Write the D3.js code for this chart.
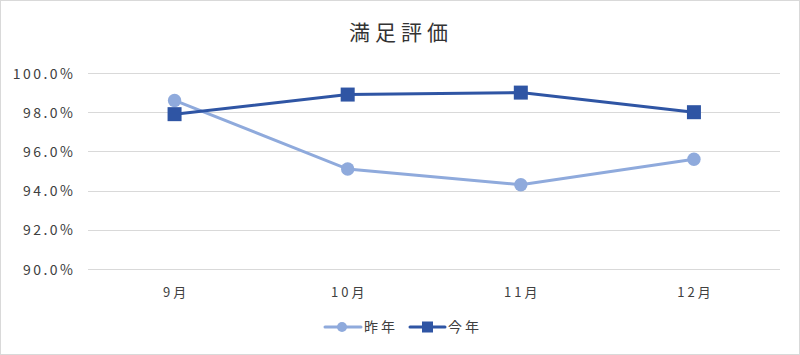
<!DOCTYPE html>
<html>
<head>
<meta charset="utf-8">
<script src="https://cdn.jsdelivr.net/npm/d3@7"></script>
<style>
  body { margin: 0; background: #fff; }
  svg { display: block; }
  text { font-family: "Noto Sans CJK JP", "Noto Sans", sans-serif; fill: #404040; }
</style>
</head>
<body>
<div id="chart"></div>
<script>
const title = "満足評価";
const months = ["9月", "10月", "11月", "12月"];
const lastYear = [98.6, 95.1, 94.3, 95.6];
const thisYear = [97.9, 98.9, 99.0, 98.0];
const yTicks = [90, 92, 94, 96, 98, 100];
const seriesNames = ["昨年", "今年"];

const width = 800, height = 355;
const margin = {top: 73, right: 20, bottom: 86, left: 88};

const svg = d3.select("#chart").append("svg")
  .attr("width", width)
  .attr("height", height);

//outer frame
svg.append("rect")
  .attr("x", 0.5).attr("y", 0.5)
  .attr("width", width - 1).attr("height", height - 1)
  .attr("fill", "#fff")
  .attr("stroke", "#d9d9d9");

svg.append("text")
  .attr("x", 401)
  .attr("y", 40)
  .attr("text-anchor", "middle")
  .style("font-size", "21px")
  .style("letter-spacing", "5px")
  .style("fill", "#333")
  .text(title);

let xScale = d3.scaleBand()
  .domain(months)
  .range([margin.left, width - margin.right + 0.5]);
let yScale = d3.scaleLinear()
  .domain([90, 100])
  .range([height - margin.bottom, margin.top]);

//Gridlines
svg.append("g")
  .selectAll("line")
  .data(yTicks)
  .enter()
    .append("line")
    .attr("x1", margin.left)
    .attr("x2", width - margin.right)
    .attr("y1", d => Math.round(yScale(d)) + 0.5)
    .attr("y2", d => Math.round(yScale(d)) + 0.5)
    .attr("stroke", "#d9d9d9")
    .attr("stroke-width", 1);

//Y labels (letter-spacing adds trailing space, so shift right)
svg.append("g")
  .selectAll("text")
  .data(yTicks)
  .enter()
    .append("text")
    .attr("x", 75.5)
    .attr("y", d => yScale(d) + 5.5)
    .attr("text-anchor", "end")
    .style("font-size", "14px")
    .style("letter-spacing", "2.5px")
    .text(d => d.toFixed(1) + "%");

//X labels
svg.append("g")
  .selectAll("text")
  .data(months)
  .enter()
    .append("text")
    .attr("x", d => xScale(d) + xScale.bandwidth() / 2 + 1.5)
    .attr("y", 297)
    .attr("text-anchor", "middle")
    .style("font-size", "13px")
    .style("letter-spacing", "3px")
    .text(d => d);

const cx = m => xScale(m) + xScale.bandwidth() / 2;
const line = d3.line()
  .x((_, i) => cx(months[i]))
  .y(d => yScale(d));

const lightColor = "#8faadc", darkColor = "#2f55a4";

svg.append("path")
  .datum(lastYear)
  .attr("fill", "none")
  .attr("stroke", lightColor)
  .attr("stroke-width", 3)
  .attr("d", line);
svg.append("g")
  .selectAll("circle")
  .data(lastYear)
  .enter()
    .append("circle")
    .attr("cx", (_, i) => cx(months[i]))
    .attr("cy", d => yScale(d))
    .attr("r", 6.7)
    .attr("fill", lightColor);

svg.append("path")
  .datum(thisYear)
  .attr("fill", "none")
  .attr("stroke", darkColor)
  .attr("stroke-width", 3)
  .attr("d", line);
svg.append("g")
  .selectAll("rect")
  .data(thisYear)
  .enter()
    .append("rect")
    .attr("x", (_, i) => cx(months[i]) - 7)
    .attr("y", d => yScale(d) - 7)
    .attr("width", 14)
    .attr("height", 14)
    .attr("fill", darkColor);

//Legend
let lg = svg.append("g").attr("transform", "translate(0, 327)");
lg.append("line").attr("x1", 325).attr("x2", 361).attr("y1", 0).attr("y2", 0)
  .attr("stroke", lightColor).attr("stroke-width", 3).attr("stroke-linecap", "round");
lg.append("circle").attr("cx", 342).attr("cy", 0).attr("r", 5).attr("fill", lightColor);
lg.append("text").attr("x", 364).attr("y", 5).style("font-size", "14px")
  .style("letter-spacing", "3px").text(seriesNames[0]);

lg.append("line").attr("x1", 410).attr("x2", 445).attr("y1", 0).attr("y2", 0)
  .attr("stroke", darkColor).attr("stroke-width", 3).attr("stroke-linecap", "round");
lg.append("rect").attr("x", 422).attr("y", -5.5).attr("width", 11).attr("height", 11).attr("fill", darkColor);
lg.append("text").attr("x", 448).attr("y", 5).style("font-size", "14px")
  .style("letter-spacing", "3px").text(seriesNames[1]);
</script>
</body>
</html>
